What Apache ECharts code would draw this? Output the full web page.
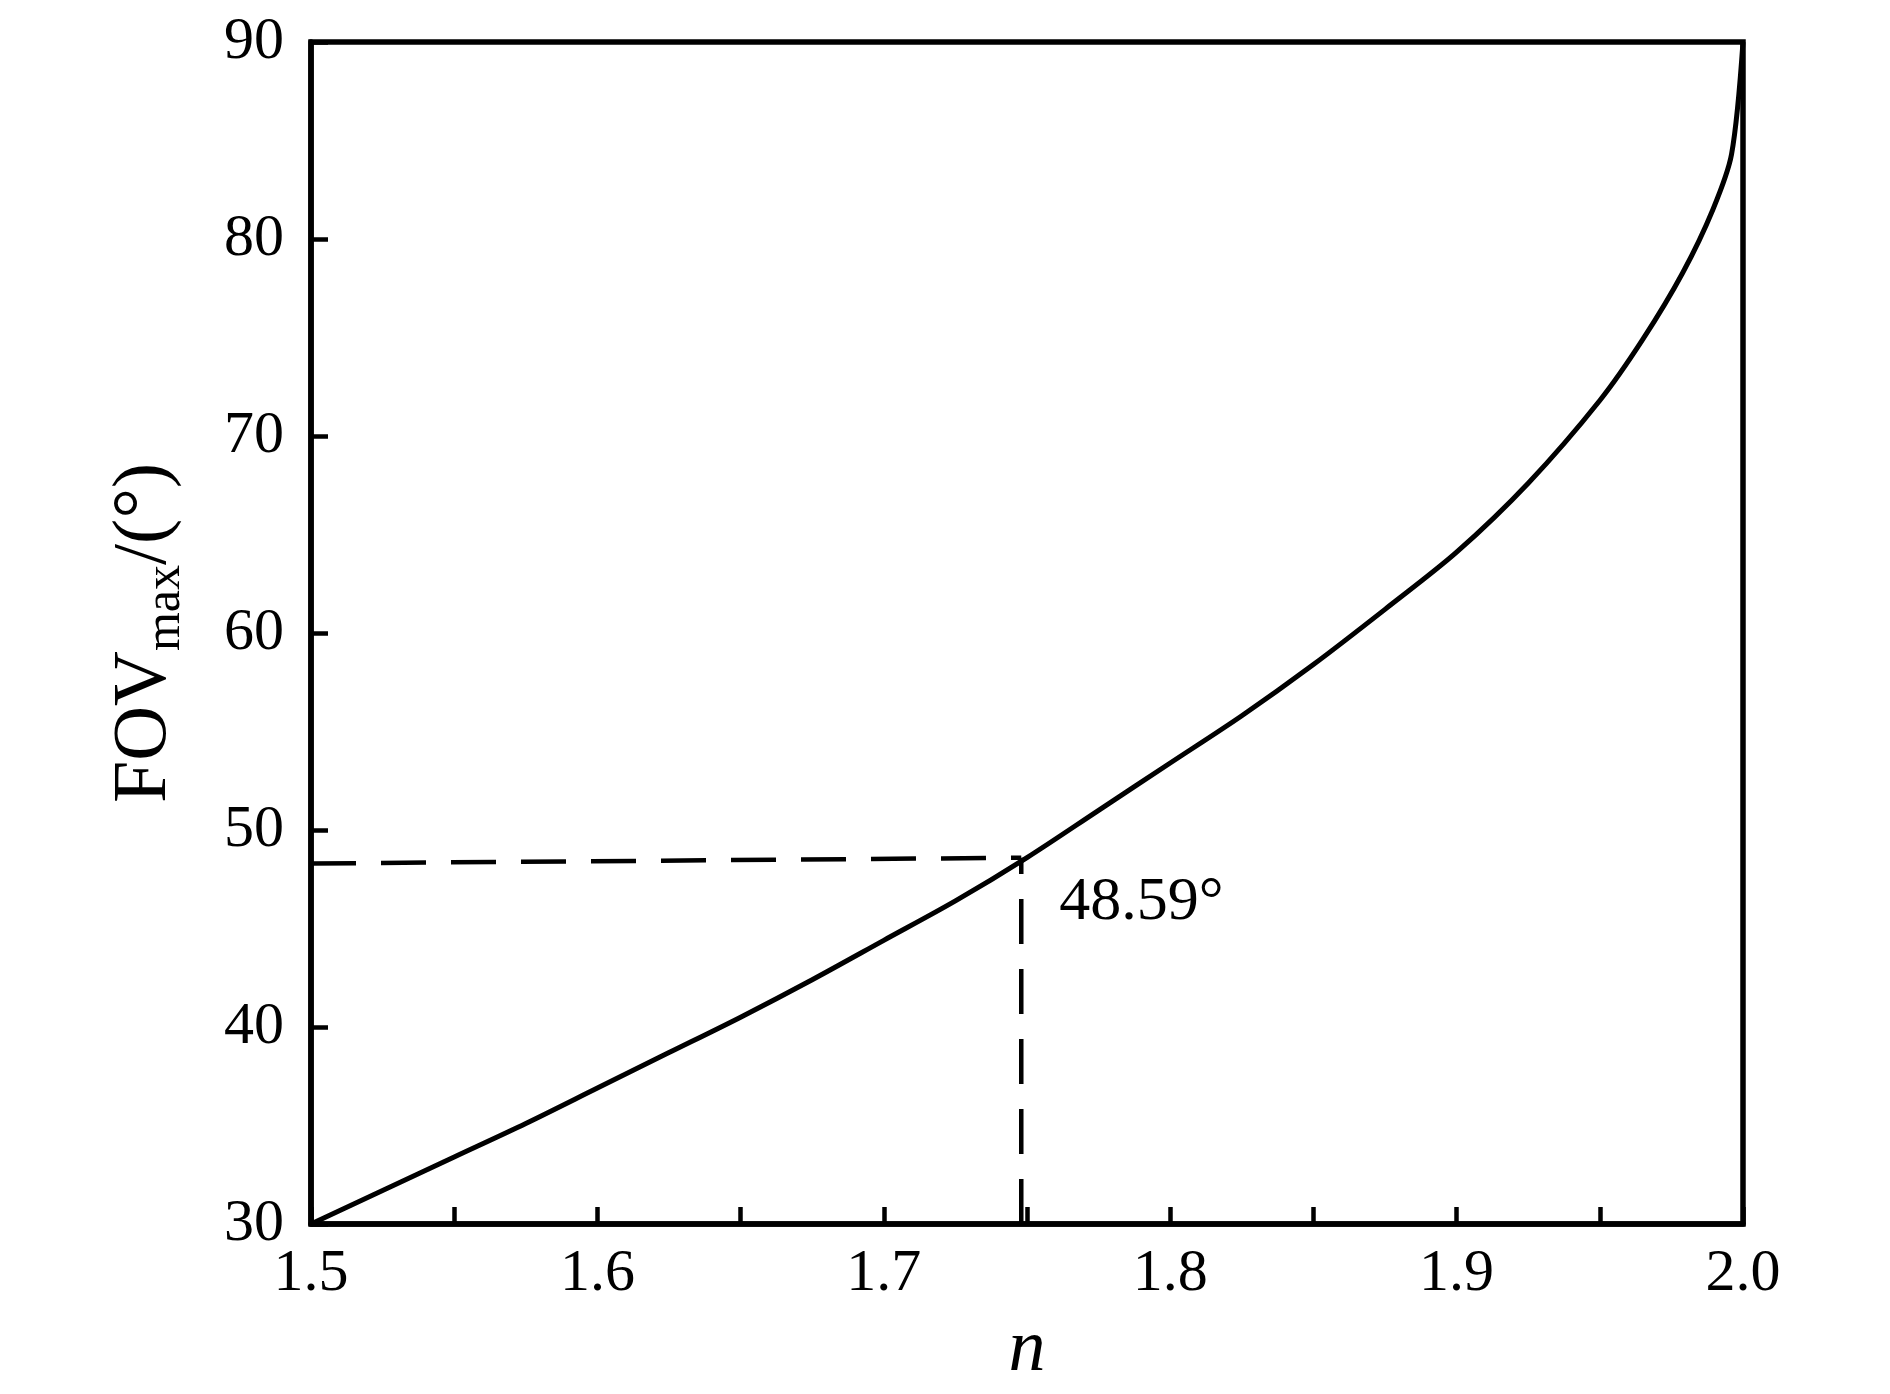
<!DOCTYPE html>
<html>
<head>
<meta charset="utf-8">
<script src="https://cdn.jsdelivr.net/npm/echarts@6/dist/echarts.min.js"></script>
<style>
html,body{margin:0;padding:0;background:#fff;}
#main{width:1890px;height:1394px;}
</style>
</head>
<body>
<div id="main"></div>
<script>
// Data
const nValues   = [1.5, 1.525, 1.55, 1.575, 1.6, 1.625, 1.65, 1.675, 1.7, 1.725, 1.75, 1.775, 1.8, 1.825, 1.85, 1.875, 1.9, 1.925, 1.95, 1.965, 1.979, 1.9895, 1.996, 2.0];
const fovValues = [30, 31.7, 33.4, 35.1, 36.9, 38.7, 40.5, 42.4, 44.4, 46.4, 48.6, 51.0, 53.4, 55.8, 58.4, 61.2, 64.1, 67.6, 71.8, 74.9, 78.3, 81.5, 84.3, 90];
const markN = 1.748;
const markFov = 48.59;
const markLeftFov = 48.3;
const markLabel = '48.59°';
const xTickLabels = ['1.5', '1.6', '1.7', '1.8', '1.9', '2.0'];
const yTickLabels = ['30', '40', '50', '60', '70', '80', '90'];

const FONT = 'Liberation Serif';
const curve = nValues.map((n, i) => [n, fovValues[i]]);
const hDash = [[1.5, markLeftFov], [markN, markFov]];
const vDash = [[markN, 30], [markN, markFov]];

const chart = echarts.init(document.getElementById('main'), null, {renderer: 'canvas'});
chart.setOption({
  backgroundColor: '#ffffff',
  animation: false,
  grid: {left: 311, top: 42, right: 147, bottom: 170, show: true, borderColor: '#000', borderWidth: 5.5, backgroundColor: 'transparent'},
  xAxis: {
    type: 'value', min: 1.5, max: 2.0, interval: 0.05,
    name: 'n', nameLocation: 'middle', nameGap: 90,
    nameTextStyle: {fontFamily: FONT, fontStyle: 'italic', fontSize: 74, color: '#000'},
    axisLine: {show: true, lineStyle: {color: '#000', width: 5.5}},
    axisTick: {show: true, inside: true, length: 17, lineStyle: {color: '#000', width: 4.5}},
    splitLine: {show: false},
    axisLabel: {
      fontFamily: FONT, fontSize: 60, color: '#000', margin: 20,
      showMinLabel: true, showMaxLabel: true,
      formatter: function (v) {
        const k = Math.round((v - 1.5) * 10);
        if (Math.abs((v - 1.5) * 10 - k) < 1e-6) return xTickLabels[k] || '';
        return '';
      }
    }
  },
  yAxis: {
    type: 'value', min: 30, max: 90, interval: 10,
    name: '{a|FOV}{b|max}{a|/(°)}', nameLocation: 'middle', nameGap: 128,
    nameTextStyle: {
      fontFamily: FONT, color: '#000',
      rich: {
        a: {fontFamily: FONT, fontSize: 76, color: '#000'},
        b: {fontFamily: FONT, fontSize: 50, color: '#000', verticalAlign: 'bottom', padding: [0, 0, -8, 0]}
      }
    },
    axisLine: {show: true, lineStyle: {color: '#000', width: 5.5}},
    axisTick: {show: true, inside: true, length: 17, lineStyle: {color: '#000', width: 4.5}},
    splitLine: {show: false},
    axisLabel: {
      fontFamily: FONT, fontSize: 60, color: '#000', margin: 27,
      formatter: function (v) {
        const k = Math.round((v - 30) / 10);
        return yTickLabels[k] || '';
      }
    }
  },
  series: [
    {
      type: 'line', data: curve, showSymbol: false, symbol: 'none',
      smooth: 0.3,
      lineStyle: {color: '#000', width: 5}, z: 5
    },
    {
      type: 'line', data: hDash, showSymbol: false, symbol: 'none',
      lineStyle: {color: '#000', width: 4.5, type: [45, 25]}, z: 4
    },
    {
      type: 'line', data: vDash, showSymbol: false, symbol: 'none',
      lineStyle: {color: '#000', width: 4.5, type: [45, 25]}, z: 4
    },
    {
      type: 'scatter', data: [[markN, markFov]], symbolSize: 0, z: 6,
      itemStyle: {opacity: 1},
      label: {
        show: true, position: 'right', distance: 0, offset: [38, 45],
        formatter: markLabel, fontFamily: FONT, fontSize: 62, color: '#000', opacity: 1
      }
    }
  ]
});
</script>
</body>
</html>
